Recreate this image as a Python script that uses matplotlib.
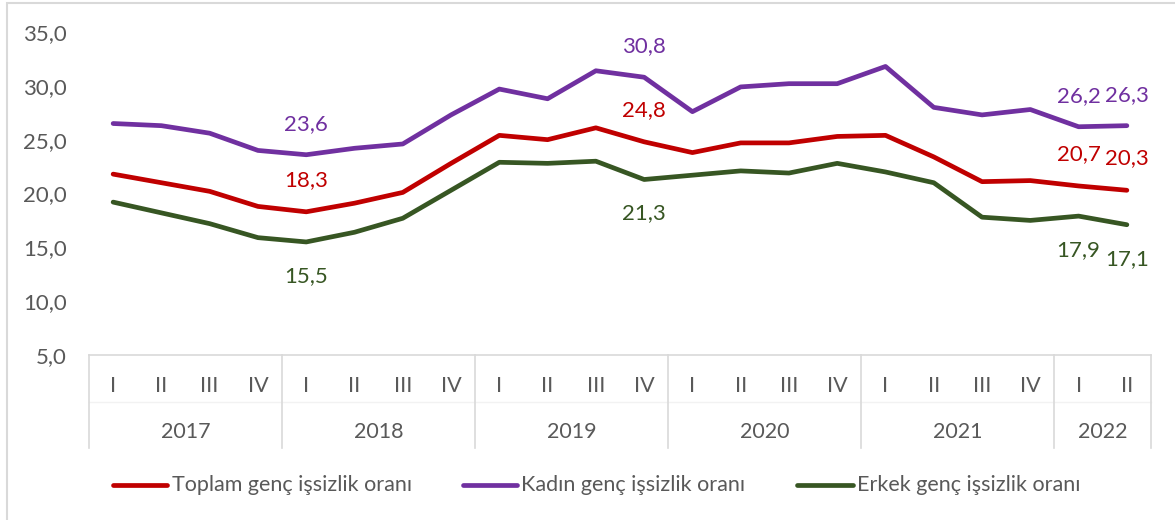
import matplotlib
matplotlib.use("Agg")
import matplotlib.pyplot as plt
from matplotlib.lines import Line2D
from matplotlib.patches import Rectangle

plt.rcParams['font.family'] = ['Lato', 'DejaVu Sans']

# ---- data ----
years = ["2017", "2018", "2019", "2020", "2021", "2022"]
quarters_per_year = [4, 4, 4, 4, 4, 2]
quarter_names = ["I", "II", "III", "IV"]

toplam = [21.8, 21.0, 20.2, 18.8, 18.3, 19.1, 20.1, 22.8, 25.4, 25.0, 26.1, 24.8,
          23.8, 24.7, 24.7, 25.3, 25.4, 23.4, 21.1, 21.2, 20.7, 20.3]
kadin = [26.5, 26.3, 25.6, 24.0, 23.6, 24.2, 24.6, 27.3, 29.7, 28.8, 31.4, 30.8,
         27.6, 29.9, 30.2, 30.2, 31.8, 28.0, 27.3, 27.8, 26.2, 26.3]
erkek = [19.2, 18.2, 17.2, 15.9, 15.5, 16.4, 17.7, 20.3, 22.9, 22.8, 23.0, 21.3,
         21.7, 22.1, 21.9, 22.8, 22.0, 21.0, 17.8, 17.5, 17.9, 17.1]

series_names = ["Toplam genç işsizlik oranı", "Kadın genç işsizlik oranı",
                "Erkek genç işsizlik oranı"]
colors = ["#C00000", "#7030A0", "#375623"]
labeled_idx = [4, 11, 20, 21]

TXT = "#595959"
GRID = "#D9D9D9"

W, H = 1175, 520
fig = plt.figure(figsize=(W / 100, H / 100), dpi=100)

# axes placement (pixels)
left_px, right_px, top_px, bottom_px = 89, 1151, 32, 355
ax = fig.add_axes([left_px / W, 1 - bottom_px / H,
                   (right_px - left_px) / W, (bottom_px - top_px) / H])

n = len(toplam)
x = list(range(n))

for vals, c in [(toplam, colors[0]), (kadin, colors[1]), (erkek, colors[2])]:
    ax.plot(x, vals, color=c, lw=3.4, solid_joinstyle='round',
            solid_capstyle='round', zorder=3)

ax.set_xlim(-0.5, n - 0.5)
ax.set_ylim(5, 35)
yt = [5, 10, 15, 20, 25, 30, 35]
ax.set_yticks(yt)
ax.set_yticklabels([f"{v:.1f}".replace(".", ",") for v in yt])
ax.tick_params(axis='y', length=0, pad=16, labelsize=16, labelcolor=TXT)
for s in ax.spines.values():
    s.set_visible(False)

# x axis: multi-level categories drawn manually
ax.set_xticks([])
trans = ax.get_xaxis_transform()
axis_h = bottom_px - top_px
def ay(px):
    return (bottom_px - px) / axis_h

ax.plot([-0.5, n - 0.5], [0, 0], color=GRID, lw=1.2, transform=trans, clip_on=False)
ax.plot([-0.5, n - 0.5], [ay(402), ay(402)], color="#F2F2F2", lw=1.0,
        transform=trans, clip_on=False)
pos = 0
bounds = [-0.5]
for yr, nq in zip(years, quarters_per_year):
    for q in range(nq):
        ax.text(pos + q, ay(386), quarter_names[q], transform=trans, ha='center',
                va='center', fontsize=15.5, color=TXT)
    ax.text(pos + (nq - 1) / 2, ay(432), yr, transform=trans, ha='center',
            va='center', fontsize=15.5, color=TXT)
    pos += nq
    bounds.append(pos - 0.5)
for b in bounds:
    ax.plot([b, b], [0, ay(448)], color=GRID, lw=1.2, transform=trans, clip_on=False)

# data labels
def lab(vals, idx, c, dy):
    for i in idx:
        ax.annotate(f"{vals[i]:.1f}".replace(".", ","), (i, vals[i]),
                    xytext=(0, dy), textcoords='offset pixels', ha='center',
                    va='center', fontsize=16, color=c, zorder=4)

lab(kadin, labeled_idx, colors[1], 31)
lab(toplam, labeled_idx, colors[0], 32)
lab(erkek, labeled_idx, colors[2], -34)

# legend (manual)
leg_y = 1 - 485 / H
leg = [(113, 167, 172), (463, 517, 521), (797, 853, 857)]
for (x0, x1, tx), name, c in zip(leg, series_names, colors):
    fig.add_artist(Line2D([x0 / W, x1 / W], [leg_y, leg_y], color=c, lw=3.4,
                          solid_capstyle='round', transform=fig.transFigure))
    fig.text(tx / W, leg_y, name, ha='left', va='center', fontsize=15.5, color=TXT)

# chart border
fig.add_artist(Rectangle((7 / W, -0.02), 1.05, 1 - 3 / H + 0.02, fill=False,
                         edgecolor=GRID, lw=1.5, transform=fig.transFigure))

fig.savefig("out.png", dpi=100)
